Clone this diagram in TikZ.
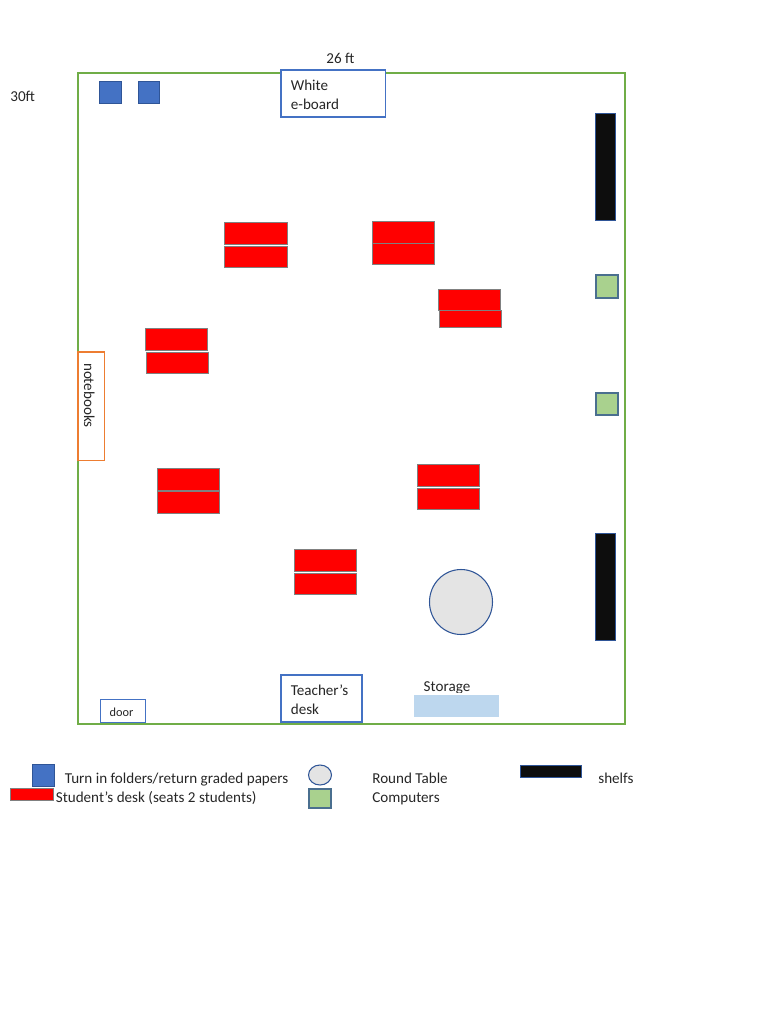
\documentclass[tikz,border=0pt]{standalone}
\usepackage{fontspec}
\setmainfont{Carlito}
\usepackage{tikz}
\definecolor{roomgreen}{HTML}{70AD47}
\definecolor{boardblue}{HTML}{4472C4}
\definecolor{edgeblue}{HTML}{2F5597}
\definecolor{pcgreen}{HTML}{A9D18E}
\definecolor{pcedge}{HTML}{4A6F8F}
\definecolor{storeblue}{HTML}{BDD7EE}
\definecolor{tablegrey}{HTML}{E4E4E4}
\definecolor{shelfblack}{HTML}{0D0D0D}
\definecolor{notebookorange}{HTML}{ED7D31}
\definecolor{textgrey}{HTML}{262626}
\tikzset{
  desk/.style={fill=red, draw=gray, line width=0.4pt},
  folder/.style={fill=boardblue, draw=edgeblue, line width=0.4pt},
  computer/.style={fill=pcgreen, draw=pcedge, line width=0.6pt},
  shelf/.style={fill=shelfblack, draw=edgeblue, line width=0.3pt},
  labelbox/.style={fill=white, draw=boardblue, line width=1pt},
  label/.style={anchor=base west, inner sep=0, text=textgrey, font=\fontsize{8.6}{10}\selectfont},
}
\begin{document}
\begin{tikzpicture}[x=0.02cm, y=-0.02cm]
            \useasboundingbox (0,0) rectangle (768,1024);
            % room
            \draw[roomgreen, line width=1pt] (78,73) rectangle (625,724);
            % turn in folders
            \draw[folder] (99.5,81) rectangle (121,103);
            \draw[folder] (138,81) rectangle (159.5,103);
            % boards and labels at the walls
            \draw[labelbox] (281,70) rectangle (385.5,117);
            \node[label] (eboard1) at (290.5,90.8) {White};
            \node[label] (eboard2) at (290.5,109.3) {e-board};
            \node[label, anchor=base] (width) at (340.5,63.8) {26 ft};
            \node[label] (height) at (10,101.8) {30ft};
            \draw[labelbox] (281,675) rectangle (362,722);
            \node[label] (teacher1) at (290.5,695) {Teacher’s};
            \node[label] (teacher2) at (290.5,714.3) {desk};
            \draw[labelbox, line width=0.5pt] (100,699) rectangle (145,722);
            \node[label, anchor=base, font=\fontsize{7}{8}\selectfont] (door) at (121.5,716) {door};
            \draw[fill=white, draw=notebookorange, line width=0.9pt] (78,352) rectangle (104.5,460.5);
            \node[label, anchor=base, rotate=-90] (notebooks) at (84,395.5) {notebooks};
            % student desks
            \draw[desk] (224,222) rectangle (287,244);
            \draw[desk] (224,246) rectangle (287,267);
            \draw[desk] (372,221) rectangle (434,243);
            \draw[desk] (372,243) rectangle (434,264);
            \draw[desk] (439,310) rectangle (501,327.5);
            \draw[desk] (438,289) rectangle (500,310);
            \draw[desk] (145,328) rectangle (207,350);
            \draw[desk] (146,352) rectangle (208,373);
            \draw[desk] (157,468) rectangle (219,490);
            \draw[desk] (157,491) rectangle (219,513);
            \draw[desk] (417,464) rectangle (479,486);
            \draw[desk] (417,488) rectangle (479,509);
            \draw[desk] (294,549) rectangle (356,571);
            \draw[desk] (294,573) rectangle (356,594);
            % shelfs and computers
            \draw[shelf] (595,113) rectangle (615,220);
            \draw[shelf] (595,533) rectangle (615,640);
            \draw[computer] (596,275) rectangle (618,298);
            \draw[computer] (596,393) rectangle (618,415);
            % table and storage
            \draw[fill=tablegrey, draw=edgeblue, line width=0.6pt] (461,602) ellipse (31.5 and 32.5);
            \begin{scope}
                \clip (400,670) rectangle (500,692);
                \node[label, anchor=base] (storage) at (447,691) {Storage};
            \end{scope}
            \fill[storeblue] (414,695) rectangle (499,717);
            % key
            \draw[folder] (32.5,764) rectangle (54,786);
            \draw[desk] (10.5,788.5) rectangle (53.5,800);
            \node[label] (keyfolder) at (64.5,783) {Turn in folders/return graded papers};
            \node[label] (keydesk) at (55.5,802.3) {Student’s desk (seats 2 students)};
            \draw[fill=tablegrey, draw=edgeblue, line width=0.6pt] (320,775) ellipse (11.5 and 10);
            \draw[computer] (309,789) rectangle (331,808);
            \node[label] (keytable) at (372,783) {Round Table};
            \node[label] (keypc) at (372,802.3) {Computers};
            \draw[shelf] (520.5,765) rectangle (581,777);
            \node[label] (keyshelf) at (598,783) {shelfs};
\end{tikzpicture}
\end{document}
